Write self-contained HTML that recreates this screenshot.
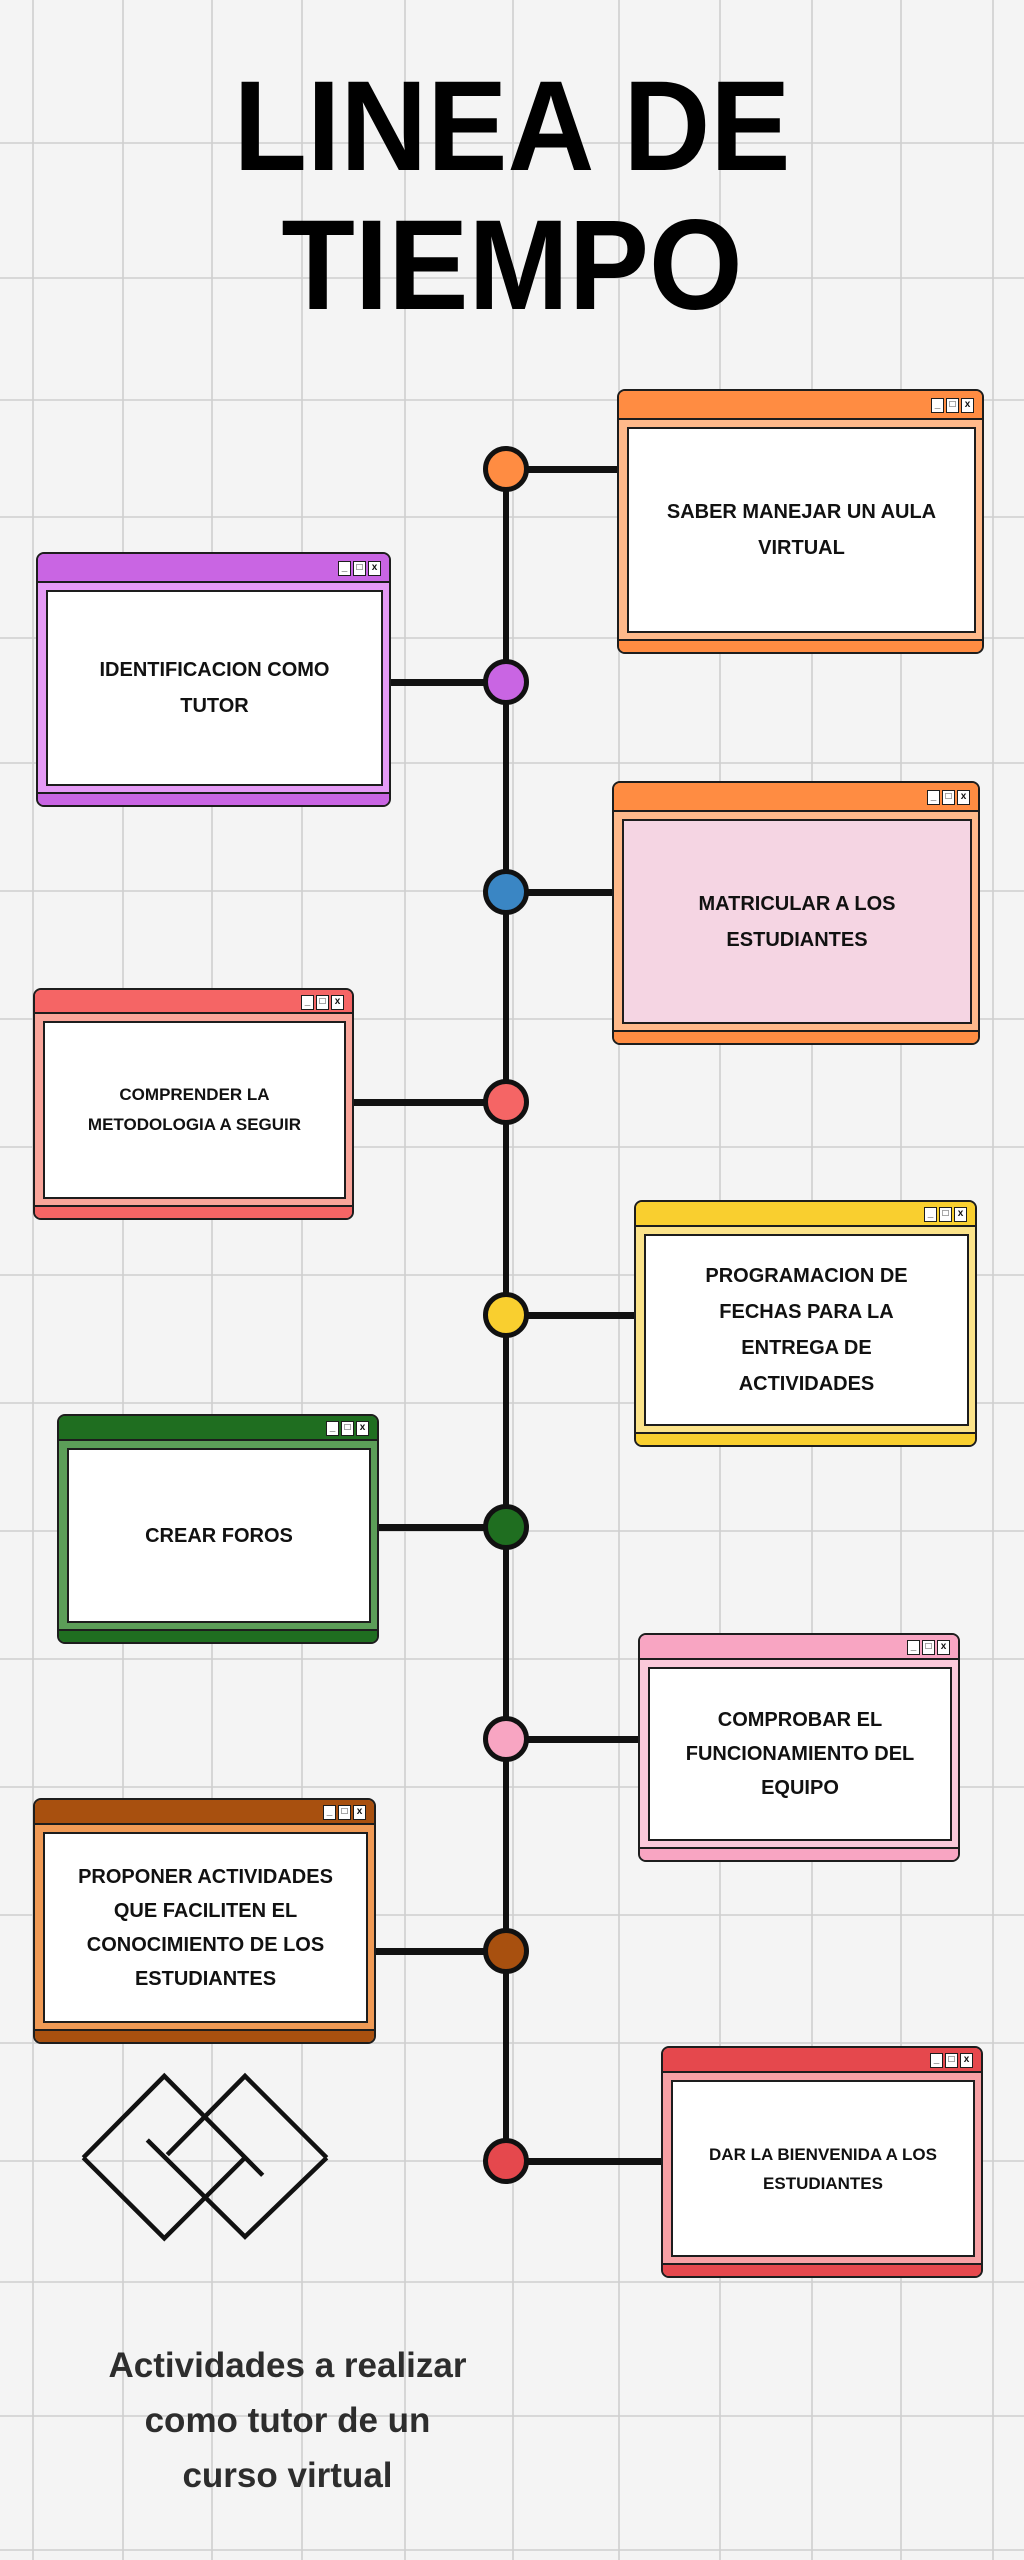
<!DOCTYPE html>
<html><head><meta charset="utf-8">
<style>
*{margin:0;padding:0;box-sizing:border-box}
body{width:1024px;height:2560px;position:relative;overflow:hidden;background:#f4f4f4;font-family:"Liberation Sans",sans-serif}
.bg{position:absolute;left:0;top:0}
.t{position:absolute;left:0;width:1024px;text-align:center;font-weight:bold;font-size:128px;color:#000;line-height:1}
.win{position:absolute;border:2.5px solid #1d1d1d;border-radius:8px;overflow:hidden}
.hd{position:absolute;left:0;right:0;top:0;height:29px;border-bottom:2.5px solid #1d1d1d}
.ft{position:absolute;left:0;right:0;bottom:0;height:13px;border-top:2.5px solid #1d1d1d}
.in{position:absolute;left:8px;right:6px;top:36px;bottom:19px;background:#fff;border:2.5px solid #1d1d1d;display:flex;align-items:center;justify-content:center;text-align:center;font-weight:bold;color:#111;font-size:20px;line-height:36px;padding:0 4px}
.b{position:absolute;top:7px;right:8px;display:flex;gap:2px}
.b span{width:13px;height:15px;border:1.5px solid #1d1d1d;background:#fff;font-size:10px;line-height:12px;text-align:center;font-weight:bold;color:#111}
.c{position:absolute;width:46px;height:46px;border-radius:50%;border:5px solid #111;left:483px}
.h{position:absolute;height:7px;background:#111}
</style></head><body>
<svg class="bg" width="1024" height="2560">
<g stroke="#cfcfcf" stroke-width="1.6">
<line x1="33" y1="0" x2="33" y2="2560"/><line x1="123" y1="0" x2="123" y2="2560"/><line x1="212" y1="0" x2="212" y2="2560"/><line x1="302" y1="0" x2="302" y2="2560"/><line x1="405" y1="0" x2="405" y2="2560"/><line x1="513" y1="0" x2="513" y2="2560"/><line x1="619" y1="0" x2="619" y2="2560"/><line x1="720" y1="0" x2="720" y2="2560"/><line x1="812" y1="0" x2="812" y2="2560"/><line x1="901" y1="0" x2="901" y2="2560"/><line x1="993" y1="0" x2="993" y2="2560"/>
<line x1="0" y1="143" x2="1024" y2="143"/><line x1="0" y1="278" x2="1024" y2="278"/><line x1="0" y1="400" x2="1024" y2="400"/><line x1="0" y1="517" x2="1024" y2="517"/><line x1="0" y1="638" x2="1024" y2="638"/><line x1="0" y1="763" x2="1024" y2="763"/><line x1="0" y1="891" x2="1024" y2="891"/><line x1="0" y1="1019" x2="1024" y2="1019"/><line x1="0" y1="1147" x2="1024" y2="1147"/><line x1="0" y1="1275" x2="1024" y2="1275"/><line x1="0" y1="1403" x2="1024" y2="1403"/><line x1="0" y1="1531" x2="1024" y2="1531"/><line x1="0" y1="1659" x2="1024" y2="1659"/><line x1="0" y1="1787" x2="1024" y2="1787"/><line x1="0" y1="1915" x2="1024" y2="1915"/><line x1="0" y1="2043" x2="1024" y2="2043"/><line x1="0" y1="2161" x2="1024" y2="2161"/><line x1="0" y1="2282" x2="1024" y2="2282"/><line x1="0" y1="2416" x2="1024" y2="2416"/><line x1="0" y1="2550" x2="1024" y2="2550"/>
</g>
<line x1="506" y1="469" x2="506" y2="2161" stroke="#111" stroke-width="6"/>
<g fill="none" stroke="#111" stroke-width="4.5" stroke-linejoin="miter">
<polyline points="83.3,2157.7 164.3,2076 262.7,2175.3"/>
<polyline points="83.3,2157.7 164.3,2238.3 244,2158.7"/>
<polyline points="326.7,2157.7 245,2076 167.3,2154.7"/>
<polyline points="326.7,2157.7 245,2236.7 147.3,2140"/>
</g>
</svg>

<div class="t" style="top:63px;transform:scaleX(0.94)">LINEA DE</div>
<div class="t" style="top:202px;transform:scaleX(0.94)">TIEMPO</div>

<div class="h" style="left:506px;width:112px;top:466px"></div>
<div class="h" style="left:390px;width:116px;top:679px"></div>
<div class="h" style="left:506px;width:108px;top:889px"></div>
<div class="h" style="left:353px;width:153px;top:1099px"></div>
<div class="h" style="left:506px;width:130px;top:1312px"></div>
<div class="h" style="left:378px;width:128px;top:1524px"></div>
<div class="h" style="left:506px;width:134px;top:1736px"></div>
<div class="h" style="left:375px;width:131px;top:1948px"></div>
<div class="h" style="left:506px;width:157px;top:2158px"></div>

<div class="c" style="top:446px;background:#FF8C42"></div>
<div class="c" style="top:659px;background:#C965E3"></div>
<div class="c" style="top:869px;background:#3A86C4"></div>
<div class="c" style="top:1079px;background:#F56565"></div>
<div class="c" style="top:1292px;background:#F9CF2F"></div>
<div class="c" style="top:1504px;background:#1F6E20"></div>
<div class="c" style="top:1716px;background:#F8A5C2"></div>
<div class="c" style="top:1928px;background:#A8500F"></div>
<div class="c" style="top:2138px;background:#E5484D"></div>

<div class="win" style="left:617px;top:389px;width:367px;height:265px;background:#FFB98A">
<div class="hd" style="background:#FF8C42"></div><div class="b"><span>_</span><span>□</span><span>x</span></div>
<div class="in">SABER MANEJAR UN AULA<br>VIRTUAL</div><div class="ft" style="background:#FF8C42"></div></div>

<div class="win" style="left:36px;top:552px;width:355px;height:255px;background:#E59AF5">
<div class="hd" style="background:#C965E3"></div><div class="b"><span>_</span><span>□</span><span>x</span></div>
<div class="in">IDENTIFICACION COMO<br>TUTOR</div><div class="ft" style="background:#C965E3"></div></div>

<div class="win" style="left:612px;top:781px;width:368px;height:264px;background:#FFB98A">
<div class="hd" style="background:#FF8C42"></div><div class="b"><span>_</span><span>□</span><span>x</span></div>
<div class="in" style="background:#F5D5E3">MATRICULAR A LOS<br>ESTUDIANTES</div><div class="ft" style="background:#FF8C42"></div></div>

<div class="win" style="left:33px;top:988px;width:321px;height:232px;background:#F9A59A">
<div class="hd" style="background:#F56565;height:24px"></div><div class="b" style="top:5px"><span>_</span><span>□</span><span>x</span></div>
<div class="in" style="top:31px;font-size:17px;line-height:30px">COMPRENDER LA<br>METODOLOGIA A SEGUIR</div><div class="ft" style="background:#F56565"></div></div>

<div class="win" style="left:634px;top:1200px;width:343px;height:247px;background:#FBE38A">
<div class="hd" style="background:#F9CF2F;height:25px"></div><div class="b" style="top:5px"><span>_</span><span>□</span><span>x</span></div>
<div class="in" style="top:32px;line-height:36px">PROGRAMACION DE<br>FECHAS PARA LA<br>ENTREGA DE<br>ACTIVIDADES</div><div class="ft" style="background:#F9CF2F"></div></div>

<div class="win" style="left:57px;top:1414px;width:322px;height:230px;background:#5C9E58">
<div class="hd" style="background:#1F6E20;height:25px"></div><div class="b" style="top:5px"><span>_</span><span>□</span><span>x</span></div>
<div class="in" style="top:32px">CREAR FOROS</div><div class="ft" style="background:#1F6E20"></div></div>

<div class="win" style="left:638px;top:1633px;width:322px;height:229px;background:#FBC9DA">
<div class="hd" style="background:#F8A5C2;height:25px"></div><div class="b" style="top:5px"><span>_</span><span>□</span><span>x</span></div>
<div class="in" style="top:32px;line-height:34px">COMPROBAR EL<br>FUNCIONAMIENTO DEL<br>EQUIPO</div><div class="ft" style="background:#F8A5C2"></div></div>

<div class="win" style="left:33px;top:1798px;width:343px;height:246px;background:#F09A55">
<div class="hd" style="background:#A8500F;height:25px"></div><div class="b" style="top:5px"><span>_</span><span>□</span><span>x</span></div>
<div class="in" style="top:32px;line-height:34px">PROPONER ACTIVIDADES<br>QUE FACILITEN EL<br>CONOCIMIENTO DE LOS<br>ESTUDIANTES</div><div class="ft" style="background:#A8500F"></div></div>

<div class="win" style="left:661px;top:2046px;width:322px;height:232px;background:#F7A0A4">
<div class="hd" style="background:#E5484D;height:25px"></div><div class="b" style="top:5px"><span>_</span><span>□</span><span>x</span></div>
<div class="in" style="top:32px;font-size:17px;line-height:29px">DAR LA BIENVENIDA A LOS<br>ESTUDIANTES</div><div class="ft" style="background:#E5484D"></div></div>

<div style="position:absolute;left:40px;width:495px;top:2338px;text-align:center;font-weight:bold;font-size:35px;line-height:55px;color:#2d2d2d">Actividades a realizar<br>como tutor de un<br>curso virtual</div>
</body></html>
